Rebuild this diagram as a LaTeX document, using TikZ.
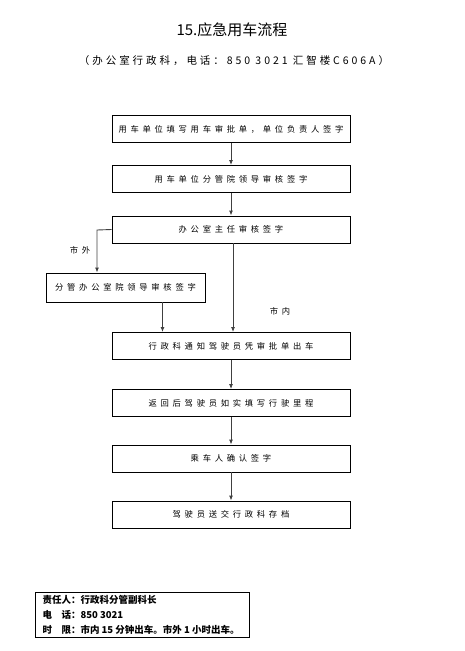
\documentclass[tikz,border=0pt]{standalone}
\usepackage{fontspec}
\newfontfamily\cjk{Noto Sans CJK SC}
\newfontfamily\cjkwide[LetterSpace=45]{Noto Sans CJK SC}
\newfontfamily\cjkmid[LetterSpace=28]{Noto Sans CJK SC}
\usetikzlibrary{arrows.meta,positioning}

\begin{document}
\begin{tikzpicture}[x=1pt,y=-1pt,
  stepbox/.style={draw, line width=0.9pt, minimum width=238pt, minimum height=27pt,
    inner sep=0pt, font=\cjkwide\fontsize{8.3}{10}\selectfont},
  arr/.style={draw=black!75, line width=0.9pt, -{Latex[length=5pt,width=4pt]}},
  tag/.style={font=\cjkwide\fontsize{8.3}{10}\selectfont}]
  \useasboundingbox (0,0) rectangle (464,651);

  % Title
  \node[font=\cjk\fontsize{15}{18}\selectfont] (title) at (232,30) {15.应急用车流程};
  \node[font=\cjkmid\fontsize{10.5}{12}\selectfont] (sub) at (234,61) {（办公室行政科，电话：850 3021 汇智楼C606A）};

  % Main steps
  \node[stepbox] (b1) at (231,129) {用车单位填写用车审批单，单位负责人签字};
  \node[stepbox] (b2) at (231,179) {用车单位分管院领导审核签字};
  \node[stepbox] (b3) at (231,229.5) {办公室主任审核签字};
  \node[stepbox, minimum width=159pt, minimum height=29pt] (b4) at (125.5,287.5) {分管办公室院领导审核签字};
  \node[stepbox] (b5) at (231,346) {行政科通知驾驶员凭审批单出车};
  \node[stepbox] (b6) at (231,403) {返回后驾驶员如实填写行驶里程};
  \node[stepbox] (b7) at (231,458.5) {乘车人确认签字};
  \node[stepbox] (b8) at (231,514.5) {驾驶员送交行政科存档};

  % Connectors
  \draw[arr] (b1) -- (b2);
  \draw[arr] (b2) -- (b3);
  \coordinate (outbend) at (97,230);
  \draw[arr] (b3.west) -- (outbend) -- (outbend |- b4.north);
  \node[tag] (outlbl) at (80,250) {市外};
  \draw[arr] ([xshift=37pt]b4.south) -- ([xshift=37pt]b4.south |- b5.north);
  \draw[arr] ([xshift=2pt]b3.south) -- ([xshift=2pt]b5.north);
  \node[tag] (inlbl) at (280,311) {市内};
  \draw[arr] (b5) -- (b6);
  \draw[arr] (b6) -- (b7);
  \draw[arr] (b7) -- (b8);

  % Responsibility box
  \node[draw, line width=0.9pt, minimum width=214pt, minimum height=45pt, anchor=north west,
    inner sep=0pt] (duty) at (35,592) {};
  \node[anchor=west, font=\cjk\bfseries\fontsize{9.5}{12}\selectfont, align=left] (dutytxt) at (39,615)
    {责任人：行政科分管副科长\\[3pt]电\hspace{1em}话：850 3021\\[3pt]时\hspace{1em}限：市内 15 分钟出车。市外 1 小时出车。};
\end{tikzpicture}
\end{document}
